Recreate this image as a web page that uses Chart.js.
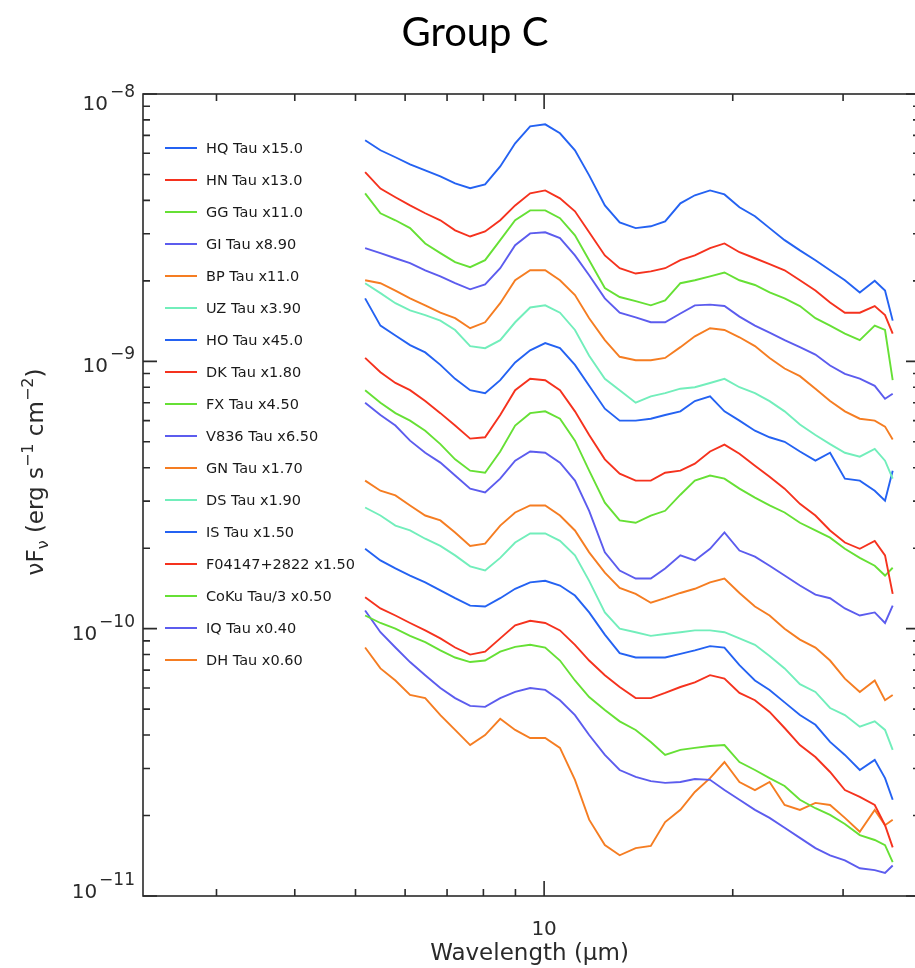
<!DOCTYPE html>
<html>
<head>
<meta charset="utf-8">
<script src="https://cdn.jsdelivr.net/npm/chart.js@4.4.1/dist/chart.umd.min.js"></script>
<style>
  html, body { margin: 0; padding: 0; background: #fff; overflow: hidden; }
  #wrap { width: 930px; height: 968px; }
</style>
</head>
<body>
<div id="wrap"><canvas id="chart" width="930" height="968"></canvas></div>
<script>
// wavelength grid (micron)
const wavelength = [5.18, 5.48, 5.79, 6.11, 6.46, 6.83, 7.21, 7.62, 8.05, 8.51, 8.99, 9.50, 10.04, 10.6, 11.2, 11.8, 12.5, 13.2, 14.0, 14.8,
                    15.6, 16.5, 17.4, 18.4, 19.4, 20.5, 21.7, 22.9, 24.2, 25.6, 27.1, 28.6, 30.2, 31.9, 33.7, 35.0, 36.0];

// nuFnu (erg s-1 cm-2), scaled as in the legend
const hqTau = [6.71e-9, 6.16e-9, 5.80e-9, 5.46e-9, 5.18e-9, 4.92e-9, 4.63e-9, 4.44e-9, 4.59e-9, 5.36e-9, 6.54e-9, 7.57e-9, 7.70e-9, 7.13e-9, 6.16e-9, 4.96e-9, 3.83e-9, 3.31e-9, 3.15e-9, 3.20e-9,
               3.34e-9, 3.90e-9, 4.18e-9, 4.36e-9, 4.21e-9, 3.77e-9, 3.49e-9, 3.15e-9, 2.84e-9, 2.60e-9, 2.39e-9, 2.19e-9, 2.01e-9, 1.81e-9, 2.00e-9, 1.84e-9, 1.42e-9];
const hnTau = [5.10e-9, 4.43e-9, 4.11e-9, 3.83e-9, 3.58e-9, 3.37e-9, 3.09e-9, 2.93e-9, 3.06e-9, 3.37e-9, 3.83e-9, 4.25e-9, 4.36e-9, 4.07e-9, 3.64e-9, 3.04e-9, 2.49e-9, 2.23e-9, 2.13e-9, 2.17e-9,
               2.23e-9, 2.39e-9, 2.49e-9, 2.65e-9, 2.76e-9, 2.56e-9, 2.43e-9, 2.31e-9, 2.19e-9, 2.01e-9, 1.84e-9, 1.66e-9, 1.52e-9, 1.52e-9, 1.61e-9, 1.49e-9, 1.27e-9];
const ggTau = [4.25e-9, 3.58e-9, 3.37e-9, 3.15e-9, 2.76e-9, 2.54e-9, 2.35e-9, 2.25e-9, 2.39e-9, 2.84e-9, 3.37e-9, 3.67e-9, 3.67e-9, 3.43e-9, 2.96e-9, 2.39e-9, 1.88e-9, 1.74e-9, 1.68e-9, 1.62e-9,
               1.69e-9, 1.96e-9, 2.01e-9, 2.08e-9, 2.15e-9, 2.01e-9, 1.93e-9, 1.81e-9, 1.72e-9, 1.61e-9, 1.45e-9, 1.36e-9, 1.27e-9, 1.20e-9, 1.36e-9, 1.31e-9, 8.5e-10];
const giTau = [2.65e-9, 2.54e-9, 2.43e-9, 2.33e-9, 2.19e-9, 2.08e-9, 1.96e-9, 1.86e-9, 1.94e-9, 2.23e-9, 2.72e-9, 3.01e-9, 3.04e-9, 2.89e-9, 2.49e-9, 2.10e-9, 1.72e-9, 1.52e-9, 1.46e-9, 1.40e-9,
               1.40e-9, 1.51e-9, 1.62e-9, 1.63e-9, 1.61e-9, 1.47e-9, 1.36e-9, 1.28e-9, 1.20e-9, 1.13e-9, 1.06e-9, 9.65e-10, 8.98e-10, 8.61e-10, 8.1e-10, 7.24e-10, 7.56e-10];
const bpTau = [2.01e-9, 1.96e-9, 1.84e-9, 1.72e-9, 1.62e-9, 1.52e-9, 1.45e-9, 1.33e-9, 1.40e-9, 1.65e-9, 2.01e-9, 2.19e-9, 2.19e-9, 2.01e-9, 1.77e-9, 1.45e-9, 1.20e-9, 1.04e-9, 1.01e-9, 1.01e-9,
               1.03e-9, 1.13e-9, 1.24e-9, 1.33e-9, 1.31e-9, 1.23e-9, 1.14e-9, 1.03e-9, 9.4e-10, 8.8e-10, 7.9e-10, 7.1e-10, 6.5e-10, 6.1e-10, 6.0e-10, 5.7e-10, 5.1e-10];
const uzTau = [1.96e-9, 1.80e-9, 1.65e-9, 1.55e-9, 1.49e-9, 1.42e-9, 1.31e-9, 1.14e-9, 1.12e-9, 1.20e-9, 1.40e-9, 1.59e-9, 1.62e-9, 1.52e-9, 1.31e-9, 1.05e-9, 8.6e-10, 7.8e-10, 7.0e-10, 7.4e-10,
               7.6e-10, 7.9e-10, 8.0e-10, 8.3e-10, 8.6e-10, 8.0e-10, 7.6e-10, 7.1e-10, 6.5e-10, 5.8e-10, 5.3e-10, 4.9e-10, 4.55e-10, 4.4e-10, 4.7e-10, 4.25e-10, 3.64e-10];
const hoTau = [1.72e-9, 1.36e-9, 1.25e-9, 1.15e-9, 1.08e-9, 9.7e-10, 8.6e-10, 7.8e-10, 7.6e-10, 8.5e-10, 9.9e-10, 1.10e-9, 1.17e-9, 1.12e-9, 9.7e-10, 8.1e-10, 6.65e-10, 6.0e-10, 6.0e-10, 6.1e-10,
               6.3e-10, 6.5e-10, 7.1e-10, 7.4e-10, 6.5e-10, 6.0e-10, 5.5e-10, 5.2e-10, 5.0e-10, 4.6e-10, 4.25e-10, 4.55e-10, 3.64e-10, 3.58e-10, 3.28e-10, 3.01e-10, 3.9e-10];
const dkTau = [1.03e-9, 9.1e-10, 8.3e-10, 7.8e-10, 7.1e-10, 6.4e-10, 5.75e-10, 5.14e-10, 5.2e-10, 6.3e-10, 7.8e-10, 8.6e-10, 8.5e-10, 7.8e-10, 6.5e-10, 5.3e-10, 4.3e-10, 3.8e-10, 3.58e-10, 3.58e-10,
               3.83e-10, 3.9e-10, 4.14e-10, 4.6e-10, 4.88e-10, 4.51e-10, 4.07e-10, 3.7e-10, 3.34e-10, 2.93e-10, 2.65e-10, 2.33e-10, 2.10e-10, 1.99e-10, 2.13e-10, 1.88e-10, 1.35e-10];
const fxTau = [7.8e-10, 7.0e-10, 6.4e-10, 6.0e-10, 5.5e-10, 4.9e-10, 4.3e-10, 3.9e-10, 3.83e-10, 4.6e-10, 5.75e-10, 6.4e-10, 6.5e-10, 6.1e-10, 5.05e-10, 3.9e-10, 2.96e-10, 2.54e-10, 2.49e-10, 2.65e-10,
               2.76e-10, 3.17e-10, 3.58e-10, 3.74e-10, 3.64e-10, 3.34e-10, 3.09e-10, 2.89e-10, 2.72e-10, 2.49e-10, 2.33e-10, 2.19e-10, 1.99e-10, 1.84e-10, 1.72e-10, 1.58e-10, 1.69e-10];
const v836Tau = [7.0e-10, 6.3e-10, 5.75e-10, 5.05e-10, 4.55e-10, 4.18e-10, 3.74e-10, 3.34e-10, 3.23e-10, 3.64e-10, 4.25e-10, 4.6e-10, 4.55e-10, 4.18e-10, 3.58e-10, 2.76e-10, 1.93e-10, 1.65e-10, 1.54e-10, 1.54e-10,
                 1.68e-10, 1.88e-10, 1.80e-10, 1.99e-10, 2.29e-10, 1.96e-10, 1.86e-10, 1.72e-10, 1.58e-10, 1.45e-10, 1.34e-10, 1.30e-10, 1.19e-10, 1.12e-10, 1.15e-10, 1.05e-10, 1.22e-10];
const gnTau = [3.58e-10, 3.28e-10, 3.15e-10, 2.89e-10, 2.65e-10, 2.54e-10, 2.29e-10, 2.04e-10, 2.08e-10, 2.43e-10, 2.72e-10, 2.89e-10, 2.89e-10, 2.65e-10, 2.33e-10, 1.93e-10, 1.62e-10, 1.42e-10, 1.35e-10, 1.25e-10,
               1.30e-10, 1.36e-10, 1.41e-10, 1.49e-10, 1.54e-10, 1.36e-10, 1.21e-10, 1.12e-10, 1.00e-10, 9.1e-11, 8.5e-11, 7.6e-11, 6.5e-11, 5.8e-11, 6.4e-11, 5.4e-11, 5.65e-11];
const dsTau = [2.84e-10, 2.65e-10, 2.43e-10, 2.33e-10, 2.17e-10, 2.04e-10, 1.88e-10, 1.71e-10, 1.65e-10, 1.84e-10, 2.10e-10, 2.27e-10, 2.27e-10, 2.13e-10, 1.88e-10, 1.51e-10, 1.15e-10, 1.00e-10, 9.7e-11, 9.4e-11,
               9.55e-11, 9.7e-11, 9.85e-11, 9.85e-11, 9.7e-11, 9.2e-11, 8.7e-11, 7.9e-11, 7.1e-11, 6.2e-11, 5.8e-11, 5.05e-11, 4.75e-11, 4.3e-11, 4.5e-11, 4.18e-11, 3.52e-11];
const isTau = [1.99e-10, 1.80e-10, 1.68e-10, 1.58e-10, 1.49e-10, 1.39e-10, 1.30e-10, 1.22e-10, 1.21e-10, 1.30e-10, 1.41e-10, 1.49e-10, 1.51e-10, 1.45e-10, 1.33e-10, 1.15e-10, 9.5e-11, 8.1e-11, 7.8e-11, 7.8e-11,
               7.8e-11, 8.05e-11, 8.3e-11, 8.6e-11, 8.5e-11, 7.3e-11, 6.4e-11, 5.9e-11, 5.3e-11, 4.75e-11, 4.37e-11, 3.77e-11, 3.37e-11, 2.96e-11, 3.23e-11, 2.76e-11, 2.29e-11];
const f04147 = [1.31e-10, 1.19e-10, 1.12e-10, 1.05e-10, 9.85e-11, 9.2e-11, 8.5e-11, 8.0e-11, 8.2e-11, 9.2e-11, 1.03e-10, 1.07e-10, 1.05e-10, 9.85e-11, 8.7e-11, 7.6e-11, 6.7e-11, 6.05e-11, 5.5e-11, 5.5e-11,
                5.75e-11, 6.05e-11, 6.3e-11, 6.7e-11, 6.5e-11, 5.75e-11, 5.4e-11, 4.88e-11, 4.25e-11, 3.67e-11, 3.31e-11, 2.91e-11, 2.49e-11, 2.35e-11, 2.19e-11, 1.84e-11, 1.52e-11];
const cokuTau3 = [1.12e-10, 1.05e-10, 1.00e-10, 9.4e-11, 8.9e-11, 8.3e-11, 7.8e-11, 7.5e-11, 7.6e-11, 8.2e-11, 8.55e-11, 8.7e-11, 8.5e-11, 7.6e-11, 6.4e-11, 5.55e-11, 4.96e-11, 4.5e-11, 4.18e-11, 3.77e-11,
                  3.37e-11, 3.52e-11, 3.58e-11, 3.64e-11, 3.67e-11, 3.17e-11, 2.96e-11, 2.76e-11, 2.58e-11, 2.29e-11, 2.13e-11, 2.01e-11, 1.86e-11, 1.69e-11, 1.62e-11, 1.55e-11, 1.34e-11];
const iqTau = [1.17e-10, 9.7e-11, 8.5e-11, 7.5e-11, 6.7e-11, 6.0e-11, 5.5e-11, 5.14e-11, 5.1e-11, 5.5e-11, 5.8e-11, 6.0e-11, 5.9e-11, 5.4e-11, 4.75e-11, 4.0e-11, 3.37e-11, 2.96e-11, 2.79e-11, 2.69e-11,
               2.65e-11, 2.67e-11, 2.74e-11, 2.72e-11, 2.49e-11, 2.29e-11, 2.10e-11, 1.96e-11, 1.80e-11, 1.65e-11, 1.51e-11, 1.42e-11, 1.36e-11, 1.27e-11, 1.25e-11, 1.22e-11, 1.30e-11];
const dhTau = [8.5e-11, 7.1e-11, 6.4e-11, 5.65e-11, 5.5e-11, 4.75e-11, 4.18e-11, 3.67e-11, 4.0e-11, 4.6e-11, 4.18e-11, 3.9e-11, 3.9e-11, 3.58e-11, 2.72e-11, 1.93e-11, 1.55e-11, 1.42e-11, 1.51e-11, 1.54e-11,
               1.89e-11, 2.10e-11, 2.45e-11, 2.76e-11, 3.17e-11, 2.67e-11, 2.49e-11, 2.67e-11, 2.19e-11, 2.10e-11, 2.23e-11, 2.19e-11, 1.96e-11, 1.74e-11, 2.10e-11, 1.84e-11, 1.93e-11];

const seriesLabels = ['HQ Tau x15.0', 'HN Tau x13.0', 'GG Tau x11.0', 'GI Tau x8.90', 'BP Tau x11.0', 'UZ Tau x3.90',
                      'HO Tau x45.0', 'DK Tau x1.80', 'FX Tau x4.50', 'V836 Tau x6.50', 'GN Tau x1.70', 'DS Tau x1.90',
                      'IS Tau x1.50', 'F04147+2822 x1.50', 'CoKu Tau/3 x0.50', 'IQ Tau x0.40', 'DH Tau x0.60'];
const seriesValues = [hqTau, hnTau, ggTau, giTau, bpTau, uzTau, hoTau, dkTau, fxTau, v836Tau, gnTau, dsTau,
                      isTau, f04147, cokuTau3, iqTau, dhTau];
const palette = ['#2462f2', '#f5321e', '#66e035', '#5c5cee', '#f57d22', '#72eebb'];

const xMinorTicks = [3, 4, 5, 6, 7, 8, 9, 20, 30];
const xMajorTicks = [10];
const yDecadeExp = [-8, -9, -10, -11];

const FONT = '"DejaVu Sans", sans-serif';
const AXIS = '#2a2a2a';

const framePlugin = {
    id: 'frame',
    afterDraw(chart) {
        const ctx = chart.ctx, a = chart.chartArea, xs = chart.scales.x, ys = chart.scales.y;
        ctx.save();
        ctx.strokeStyle = AXIS;
        ctx.lineWidth = 1.6;
        ctx.strokeRect(a.left, a.top, a.right - a.left, a.bottom - a.top);

        // inward ticks, all four sides
        ctx.beginPath();
        [...xMinorTicks, ...xMajorTicks].forEach(v => {
            const px = xs.getPixelForValue(v), len = xMajorTicks.includes(v) ? 15 : 7;
            ctx.moveTo(px, a.bottom); ctx.lineTo(px, a.bottom - len);
            ctx.moveTo(px, a.top); ctx.lineTo(px, a.top + len);
        });
        for (let e = -11; e <= -8; e++) {
            for (let m = 1; m <= 9; m++) {
                const v = m * Math.pow(10, e);
                if (v < ys.min * 0.999 || v > ys.max * 1.001) continue;
                const py = ys.getPixelForValue(v), len = m === 1 ? 14 : 7;
                ctx.moveTo(a.left, py); ctx.lineTo(a.left + len, py);
                ctx.moveTo(a.right, py); ctx.lineTo(a.right - len, py);
            }
        }
        ctx.stroke();

        ctx.fillStyle = AXIS;
        ctx.textBaseline = 'alphabetic';
        // y tick labels 10^n
        yDecadeExp.forEach(e => {
            const py = ys.getPixelForValue(Math.pow(10, e));
            const base = Math.min(Math.max(py + 11, a.top + 16), a.bottom + 2);
            ctx.font = '17px ' + FONT;
            ctx.textAlign = 'right';
            const expText = '\u2212' + Math.abs(e);
            const ew = ctx.measureText(expText).width;
            ctx.fillText(expText, 135, base - 13);
            ctx.font = '20px ' + FONT;
            ctx.fillText('10', 135 - ew - 2, base);
        });

        // x tick label
        ctx.font = '20px ' + FONT;
        ctx.textAlign = 'center';
        xMajorTicks.forEach(v => ctx.fillText(String(v), xs.getPixelForValue(v), 935));

        // x title
        ctx.font = '23px ' + FONT;
        ctx.fillText('Wavelength (\u03bcm)', (a.left + a.right) / 2 - 2, 960);

        // y title with sub/superscripts
        const parts = [
            { t: '\u03bd', s: 23, dy: 0 }, { t: 'F', s: 23, dy: 0 }, { t: '\u03bd', s: 16, dy: 5 },
            { t: ' (erg s', s: 23, dy: 0 }, { t: '\u22121', s: 16, dy: -10 },
            { t: ' cm', s: 23, dy: 0 }, { t: '\u22122', s: 16, dy: -10 }, { t: ')', s: 23, dy: 0 }
        ];
        let total = 0;
        parts.forEach(p => { ctx.font = p.s + 'px ' + FONT; p.w = ctx.measureText(p.t).width; total += p.w; });
        ctx.save();
        ctx.translate(43, 472);
        ctx.rotate(-Math.PI / 2);
        ctx.textAlign = 'left';
        let cx = -total / 2;
        parts.forEach(p => { ctx.font = p.s + 'px ' + FONT; ctx.fillText(p.t, cx, p.dy); cx += p.w; });
        ctx.restore();

        // legend
        ctx.textAlign = 'left';
        ctx.textBaseline = 'middle';
        ctx.font = '14.5px ' + FONT;
        chart.data.datasets.forEach((ds, i) => {
            const y = 148 + i * 32;
            ctx.strokeStyle = ds.borderColor;
            ctx.lineWidth = 2;
            ctx.beginPath(); ctx.moveTo(165, y); ctx.lineTo(197, y); ctx.stroke();
            ctx.fillStyle = '#1a1a1a';
            ctx.fillText(ds.label, 206, y + 1);
        });

        // title
        ctx.fillStyle = '#000';
        ctx.textAlign = 'center';
        ctx.textBaseline = 'alphabetic';
        ctx.font = '40px Lato, sans-serif';
        ctx.fillText('Group C', 475, 46);
        ctx.restore();
    }
};

new Chart(document.getElementById('chart').getContext('2d'), {
    type: 'line',
    data: {
        datasets: seriesValues.map((vals, i) => ({
            label: seriesLabels[i],
            data: vals.map((v, k) => ({ x: wavelength[k], y: v })),
            borderColor: palette[i % palette.length],
            borderWidth: 1.9,
            pointRadius: 0,
            tension: 0,
            fill: false
        }))
    },
    options: {
        responsive: false,
        animation: false,
        devicePixelRatio: 1,
        layout: { padding: { top: 94, right: 10, left: 0, bottom: 0 } },
        plugins: { legend: { display: false }, tooltip: { enabled: false }, title: { display: false } },
        scales: {
            x: { type: 'logarithmic', min: 2.29, max: 39.8, grid: { display: false }, border: { display: false },
                 ticks: { display: false }, afterFit: s => { s.height = 72; } },
            y: { type: 'logarithmic', min: 1e-11, max: 1e-8, grid: { display: false }, border: { display: false },
                 ticks: { display: false }, afterFit: s => { s.width = 143; } }
        }
    },
    plugins: [framePlugin]
});
</script>
</body>
</html>
